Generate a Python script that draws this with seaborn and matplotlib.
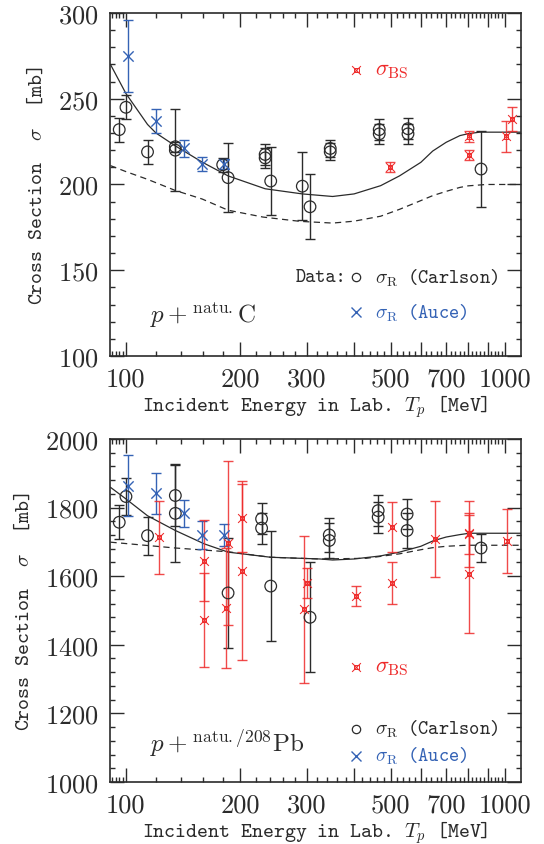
import matplotlib
matplotlib.use("Agg")
import matplotlib.pyplot as plt
import seaborn as sns
from matplotlib.ticker import FixedLocator, FixedFormatter, NullFormatter, MultipleLocator

# ---- p + natu.C ----
carlson_c_E = [96, 100, 114, 135, 135, 180, 186, 233, 233, 241, 292, 306, 346, 346, 466, 466, 555, 555, 865]
carlson_c_sig = [232, 245, 219, 222, 220, 211.5, 204, 217.5, 215.5, 202, 199, 187, 221, 219, 232, 229.5, 232.5, 229.5, 209]
carlson_c_err = [7, 7, 7, 3, 24, 4, 20, 6, 6, 20, 20, 19, 5, 5, 6, 6, 6, 6, 22]

auce_c_E = [101, 120, 142, 159, 181]
auce_c_sig = [275, 237, 221, 212, 212]
auce_c_err = [21, 7, 5, 4, 3]

bs_c_E = [497, 805, 805, 1006, 1042]
bs_c_sig = [210, 228, 217, 228, 238]
bs_c_err = [3, 3, 3, 9, 7]

solid_c_E = [91, 100, 114, 120, 135, 159, 186, 233, 292, 351, 400, 470, 527, 600, 645, 700, 761, 800, 858, 1000, 1100]
solid_c_sig = [270, 253, 235, 230, 222.5, 213, 205, 197.5, 194.5, 193, 194.5, 199.3, 205, 212.9, 219.5, 224.6, 228.5,
               229.6, 230.5, 230.5, 230.5]
dash_c_E = [91, 100, 114, 135, 159, 186, 230, 288, 351, 400, 470, 527, 600, 645, 700, 761, 800, 893, 1100]
dash_c_sig = [211, 207.5, 203, 196.5, 191.5, 185, 181, 178.5, 177.5, 178.6, 181.5, 185.5, 190.6, 193.5, 196, 198.3,
              199.2, 200, 200]

# ---- p + natu./208Pb ----
carlson_pb_E = [96, 100, 114, 135, 135, 186, 228, 228, 241, 306, 344, 344, 463, 463, 552, 552, 865]
carlson_pb_sig = [1757, 1832, 1718, 1835, 1783, 1551, 1767, 1740, 1571, 1480, 1720, 1704, 1791, 1772, 1781, 1733, 1682]
carlson_pb_err = [49, 55, 55, 90, 143, 160, 45, 45, 160, 160, 50, 50, 45, 45, 45, 50, 40]

auce_pb_E = [101, 120, 142, 159, 181]
auce_pb_sig = [1864, 1842, 1783, 1720, 1720]
auce_pb_err = [90, 60, 40, 40, 32]

bs_pb_E = [122, 161, 161, 183.5, 186, 202, 202, 295, 301, 404, 504, 504, 653, 805, 805, 805, 1010]
bs_pb_sig = [1713, 1645, 1473, 1507, 1697, 1769, 1616, 1503, 1580, 1543, 1743, 1580, 1708, 1725, 1723, 1606, 1702]
bs_pb_err = [107, 118, 137, 175, 240, 100, 260, 215, 45, 29, 72, 62, 110, 60, 95, 172, 94]

solid_pb_E = [91, 100, 114, 135, 161, 186, 241, 325, 351, 400, 470, 527, 600, 647, 700, 760, 805, 1010, 1100]
solid_pb_sig = [1859, 1825, 1776, 1733, 1694, 1670, 1655, 1650, 1647, 1650, 1659, 1670, 1687, 1703, 1714, 1721, 1725,
                1725, 1725]
dash_pb_E = [91, 135, 186, 241, 325, 431, 527, 600, 645, 700, 790, 893, 1100]
dash_pb_sig = [1699, 1682, 1671, 1655, 1650, 1652, 1665, 1677, 1683, 1687, 1690, 1690, 1690]

x_major = [100, 200, 300, 400, 500, 600, 700, 800, 900, 1000]
x_labels = ["100", "200", "300", "", "500", "", "700", "", "", "1000"]

BLACK = "#2b2b2b"
BLUE = "#3563b5"
RED = "#ee2a2a"

sns.set_theme(style="ticks")
plt.rcParams["font.family"] = ["cmr10", "DejaVu Serif"]
plt.rcParams["mathtext.fontset"] = "cm"
plt.rcParams["axes.unicode_minus"] = False
plt.rcParams["axes.formatter.use_mathtext"] = True

fig = plt.figure(figsize=(5.44, 8.45), dpi=100)
ax1 = fig.add_axes([0.202, 0.5775, 0.7555, 0.406])
ax2 = fig.add_axes([0.202, 0.0734, 0.7555, 0.406])


def bs_marker(ax, x, y, transform=None):
    kw = {} if transform is None else {"transform": transform}
    ax.scatter(x, y, marker="s", s=9, facecolors="none", edgecolors=RED, linewidths=0.7, zorder=5, **kw)
    ax.scatter(x, y, marker="x", s=40, color=RED, linewidths=0.75, zorder=5, **kw)


def panel(ax, cE, cS, cErr, aE, aS, aErr, bE, bS, bErr, sE, sS, dE, dS, ylim, ymaj, ymin):
    sns.lineplot(x=sE, y=sS, ax=ax, color=BLACK, lw=0.9, estimator=None, sort=False)
    sns.lineplot(x=dE, y=dS, ax=ax, color=BLACK, lw=0.9, estimator=None, sort=False,
                 linestyle=(0, (5, 3.5)))
    ax.errorbar(cE, cS, yerr=cErr, fmt="none", ecolor=BLACK, elinewidth=1, capsize=3.6, capthick=1)
    sns.scatterplot(x=cE, y=cS, ax=ax, marker="o", s=70, facecolors="none", edgecolors=BLACK, linewidths=0.9, zorder=4)
    ax.errorbar(aE, aS, yerr=aErr, fmt="none", ecolor=BLUE, elinewidth=1, capsize=3.6, capthick=1)
    sns.scatterplot(x=aE, y=aS, ax=ax, marker="x", s=55, color=BLUE, linewidths=1, zorder=4)
    ax.errorbar(bE, bS, yerr=bErr, fmt="none", ecolor=RED, elinewidth=1, capsize=3.6, capthick=1, alpha=0.85)
    bs_marker(ax, bE, bS)

    ax.set_xscale("log")
    ax.set_xlim(90.7, 1102)
    ax.set_ylim(*ylim)
    ax.xaxis.set_major_locator(FixedLocator(x_major))
    ax.xaxis.set_major_formatter(FixedFormatter(x_labels))
    minor = [92, 94, 96, 98] + [v for v in range(120, 1000, 20) if v % 100]
    ax.xaxis.set_minor_locator(FixedLocator(minor))
    ax.xaxis.set_minor_formatter(NullFormatter())
    ax.yaxis.set_major_locator(MultipleLocator(ymaj))
    ax.yaxis.set_minor_locator(MultipleLocator(ymin))
    ax.tick_params(which="both", direction="in", top=True, right=True, colors=BLACK, width=1)
    ax.tick_params(which="major", length=10, labelsize=19, pad=8)
    ax.tick_params(which="minor", length=3.6)
    for sp in ax.spines.values():
        sp.set_color(BLACK)
        sp.set_linewidth(1.2)
    ax.set_xlabel(r"Incident Energy in Lab. $T_p$ [MeV]", family="cmtt10", fontsize=15, color=BLACK, labelpad=1)
    ax.set_ylabel(r"Cross Section  $\sigma$  [mb]", family="cmtt10", fontsize=15, color=BLACK, labelpad=8)


panel(ax1, carlson_c_E, carlson_c_sig, carlson_c_err, auce_c_E, auce_c_sig, auce_c_err,
      bs_c_E, bs_c_sig, bs_c_err, solid_c_E, solid_c_sig, dash_c_E, dash_c_sig, (100, 300), 50, 10)
panel(ax2, carlson_pb_E, carlson_pb_sig, carlson_pb_err, auce_pb_E, auce_pb_sig, auce_pb_err,
      bs_pb_E, bs_pb_sig, bs_pb_err, solid_pb_E, solid_pb_sig, dash_pb_E, dash_pb_sig, (1000, 2000), 200, 40)

# legends / annotations
for ax, ybs, yc, ya, data_lbl in [(ax1, 0.834, 0.23, 0.128, True), (ax2, 0.334, 0.155, 0.077, False)]:
    bs_marker(ax, [0.6], [ybs], transform=ax.transAxes)
    ax.text(0.645, ybs, r"$\sigma_{\rm BS}$", transform=ax.transAxes, color=RED, fontsize=16, va="center")
    ax.plot([0.6], [yc], "o", ms=6, mfc="none", mec=BLACK, mew=0.9, transform=ax.transAxes)
    ax.plot([0.6], [ya], "x", ms=6.5, color=BLUE, mew=1, transform=ax.transAxes)
    ax.text(0.645, yc, r"$\sigma_{\rm R}$ (Carlson)", transform=ax.transAxes, color=BLACK,
            fontsize=14, family="cmtt10", va="center")
    ax.text(0.645, ya, r"$\sigma_{\rm R}$ (Auce)", transform=ax.transAxes, color=BLUE,
            fontsize=14, family="cmtt10", va="center")
    if data_lbl:
        ax.text(0.575, yc, "Data:", transform=ax.transAxes, color=BLACK, fontsize=14,
                family="cmtt10", va="center", ha="right")

ax1.text(0.097, 0.1, r"$p+^{\rm natu.}{\rm C}$", transform=ax1.transAxes, fontsize=18, color=BLACK)
ax2.text(0.097, 0.09, r"$p+^{\rm natu./208}{\rm Pb}$", transform=ax2.transAxes, fontsize=18, color=BLACK)

fig.savefig("out.png", dpi=100)
